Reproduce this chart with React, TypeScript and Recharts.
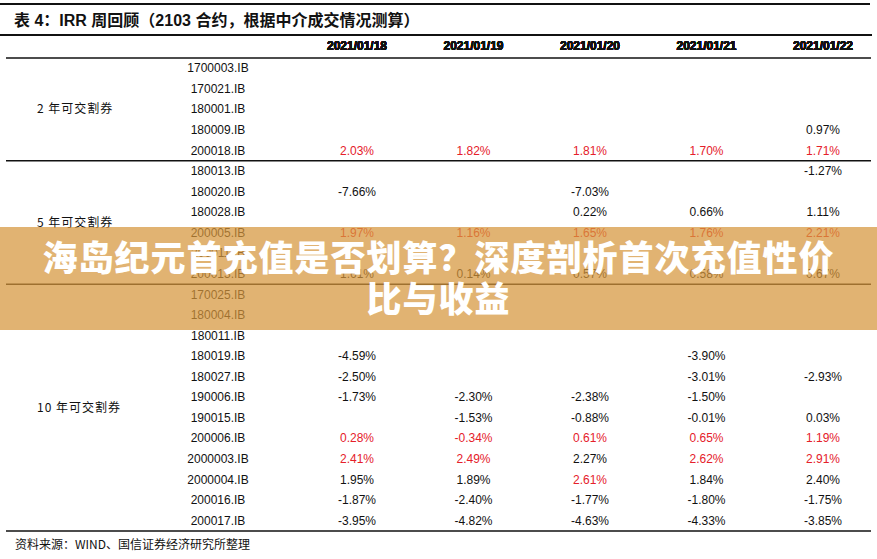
import { ScatterChart, Scatter, XAxis, YAxis, ReferenceLine, ReferenceArea } from "recharts";

const dates = ["2021/01/18", "2021/01/19", "2021/01/20", "2021/01/21", "2021/01/22"];

const groupNames = ["2 年可交割券", "5 年可交割券", "10 年可交割券"];

const bonds2y = ["1700003.IB", "170021.IB", "180001.IB", "180009.IB", "200018.IB"];
const bonds5y = ["180013.IB", "180020.IB", "180028.IB", "200005.IB", "200011.IB", "200013.IB"];
const bonds10y = [
	"170025.IB", "180004.IB", "180011.IB", "180019.IB", "180027.IB", "190006.IB",
	"190015.IB", "200006.IB", "2000003.IB", "2000004.IB", "200016.IB", "200017.IB",
];

// IRR in %, one row per bond, one column per date (null = no trade)
const irr2y = [
	[null, null, null, null, null],
	[null, null, null, null, null],
	[null, null, null, null, null],
	[null, null, null, null, 0.97],
	[2.03, 1.82, 1.81, 1.7, 1.71],
];
const irr5y = [
	[null, null, null, null, -1.27],
	[-7.66, null, -7.03, null, null],
	[null, null, 0.22, 0.66, 1.11],
	[1.97, 1.16, 1.65, 1.76, 2.21],
	[null, null, null, null, null],
	[1.61, 0.14, 0.57, 0.58, 0.67],
];
const irr10y = [
	[null, null, null, null, null],
	[null, null, null, null, null],
	[null, null, null, null, null],
	[-4.59, null, null, -3.9, null],
	[-2.5, null, null, -3.01, -2.93],
	[-1.73, -2.3, -2.38, -1.5, null],
	[null, -1.53, -0.88, -0.01, 0.03],
	[0.28, -0.34, 0.61, 0.65, 1.19],
	[2.41, 2.49, 2.27, 2.62, 2.91],
	[1.95, 1.89, 2.61, 1.84, 2.4],
	[-1.87, -2.4, -1.77, -1.8, -1.75],
	[-3.95, -4.82, -4.63, -4.33, -3.85],
];

// highlighted (red) cells, 1 = highlighted
const red2y = [[0, 0, 0, 0, 0], [0, 0, 0, 0, 0], [0, 0, 0, 0, 0], [0, 0, 0, 0, 0], [1, 1, 1, 1, 1]];
const red5y = [[0, 0, 0, 0, 0], [0, 0, 0, 0, 0], [0, 0, 0, 0, 0], [1, 1, 1, 1, 1], [0, 0, 0, 0, 0], [0, 0, 0, 0, 0]];
const red10y = [
	[0, 0, 0, 0, 0], [0, 0, 0, 0, 0], [0, 0, 0, 0, 0], [0, 0, 0, 0, 0],
	[0, 0, 0, 0, 0], [0, 0, 0, 0, 0], [0, 0, 0, 0, 0], [1, 1, 1, 1, 1],
	[1, 1, 0, 1, 1], [0, 0, 1, 0, 0], [0, 0, 0, 0, 0], [0, 0, 0, 0, 0],
];

const INK = "#111";
const RED = "#e5202a";
const SANS = "'Liberation Sans', Arial, 'Noto Sans CJK SC', sans-serif";
const CJK = "'Noto Sans CJK SC', 'Liberation Sans', sans-serif";
const CODE_X = 218;
const GROUP_X = 37;

const groups = [
	{ name: groupNames[0], bonds: bonds2y, irr: irr2y, red: red2y },
	{ name: groupNames[1], bonds: bonds5y, irr: irr5y, red: red5y },
	{ name: groupNames[2], bonds: bonds10y, irr: irr10y, red: red10y },
];

const codes = groups.flatMap((g) => g.bonds);

let acc = 0;
const spans = groups.map((g) => {
	const start = acc;
	acc += g.bonds.length;
	return { name: g.name, start, end: acc - 1 };
});

// column-major so the category axis keeps date order
const cells: { date: string; row: number; value: number; red: boolean }[] = [];
dates.forEach((date, d) => {
	groups.forEach((g, gi) => {
		g.bonds.forEach((_, i) => {
			const v = g.irr[i][d];
			if (v !== null) cells.push({ date, row: spans[gi].start + i, value: v, red: g.red[i][d] === 1 });
		});
	});
});

const CellText = (props: any) => {
	const { cx, cy, payload } = props;
	return (
		<text x={cx} y={cy} dy={4} textAnchor="middle" fontSize={12} fontFamily={SANS} fill={payload.red ? RED : INK}>
			{payload.value.toFixed(2)}%
		</text>
	);
};

const HeaderTick = (props: any) => (
	<text x={props.x} y={50} textAnchor="middle" fontSize={12} fontWeight="bold" fontFamily={SANS} fill={INK}>
		{props.payload.value}
	</text>
);

const CodeTick = (props: any) => (
	<text x={CODE_X} y={props.y} dy={4} textAnchor="middle" fontSize={12} fontFamily={SANS} fill={INK}>
		{codes[props.payload.value]}
	</text>
);

const groupLabel = (name: string) => (props: any) => {
	const vb = props.viewBox || {};
	return (
		<text x={GROUP_X} y={vb.y + vb.height / 2} dy={4} fontSize={12} letterSpacing={1} fontFamily={CJK} fill={INK}>
			{name}
		</text>
	);
};

export default function App() {
	return (
		<div style={{ position: "relative", width: 877, height: 559, background: "#fff", fontFamily: SANS, color: INK }}>
			<style>{`body{margin:0}`}</style>
			<div style={{ position: "absolute", left: 0, top: 3, width: 870, height: 1.5, background: INK }} />
			<div style={{ position: "absolute", left: 14, top: 11, fontSize: 16, lineHeight: "20px", fontWeight: "bold", whiteSpace: "nowrap" }}>
				表 4：IRR 周回顾（2103 合约，根据中介成交情况测算）
			</div>
			<div style={{ position: "absolute", left: 0, top: 34, width: 872, height: 1.5, background: INK }} />

			<ScatterChart width={877} height={559} margin={{ top: 34, right: 6, bottom: 28, left: 5 }} style={{ position: "absolute", left: 0, top: 0 }}>
				<XAxis
					type="category"
					dataKey="date"
					allowDuplicatedCategory={false}
					orientation="top"
					scale="point"
					padding={{ left: 351, right: 48 }}
					height={24}
					axisLine={false}
					tickLine={false}
					interval={0}
					tick={HeaderTick}
				/>
				<YAxis
					type="number"
					dataKey="row"
					domain={[-0.5, codes.length - 0.5]}
					reversed
					ticks={codes.map((_, i) => i)}
					interval={0}
					width={1}
					axisLine={false}
					tickLine={false}
					tick={CodeTick}
				/>
				{spans.map((s) => (
					<ReferenceArea
						key={s.name}
						y1={s.start - 0.5}
						y2={s.end + 0.5}
						fill="none"
						strokeOpacity={0}
						label={groupLabel(s.name)}
					/>
				))}
				<ReferenceLine y={-0.5} stroke={INK} strokeWidth={1.5} />
				{spans.map((s) => (
					<ReferenceLine key={s.name} y={s.end + 0.5} stroke={INK} strokeWidth={1.5} />
				))}
				<Scatter data={cells} isAnimationActive={false} shape={CellText} />
			</ScatterChart>

			<div style={{ position: "absolute", left: 15, top: 536, fontSize: 12, lineHeight: "16px", fontFamily: CJK, whiteSpace: "nowrap" }}>
				资料来源：WIND、国信证券经济研究所整理
			</div>

			<div
				style={{
					position: "absolute",
					left: 0,
					top: 227,
					width: 877,
					height: 103,
					background: "rgba(214,150,60,0.72)",
					color: "#fff",
					fontFamily: CJK,
					fontWeight: 900,
					fontSize: 35,
					letterSpacing: 1,
					lineHeight: "41px",
					textAlign: "center",
					paddingTop: 8,
					boxSizing: "border-box",
					whiteSpace: "nowrap",
				}}
			>
				<div>海岛纪元首充值是否划算？深度剖析首次充值性价</div>
				<div>比与收益</div>
			</div>
		</div>
	);
}
